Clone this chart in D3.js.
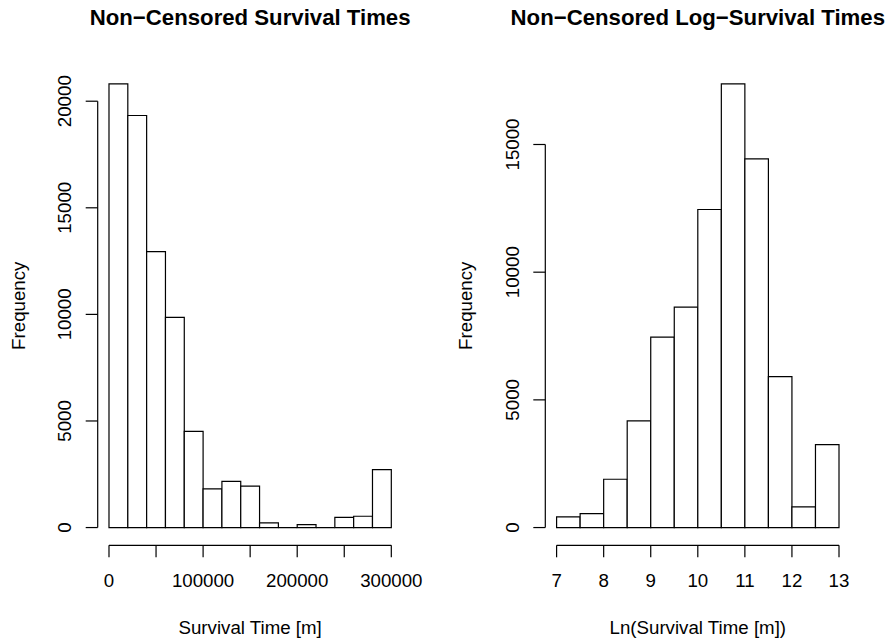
<!DOCTYPE html>
<html>
<head>
<meta charset="utf-8">
<script src="https://cdn.jsdelivr.net/npm/d3@7"></script>
<style>
  html, body { margin: 0; padding: 0; background: #fff; }
  svg { display: block; }
  text { font-family: "Liberation Sans", Arial, Helvetica, sans-serif; fill: #000; }
</style>
</head>
<body>
<svg id="chart" width="891" height="640"></svg>
<script>
// ---- Data ----
const survivalBreaks = [0, 20000, 40000, 60000, 80000, 100000, 120000, 140000, 160000,
                        180000, 200000, 220000, 240000, 260000, 280000, 300000];
const survivalCounts = [20810, 19330, 12940, 9860, 4510, 1810, 2170, 1940, 220, 0, 140, 0, 480, 530, 2720];
const survivalXTicks = [0, 50000, 100000, 150000, 200000, 250000, 300000];
const survivalXLabels = [0, 100000, 200000, 300000];
const survivalYTicks = [0, 5000, 10000, 15000, 20000];

const logBreaks = [7, 7.5, 8, 8.5, 9, 9.5, 10, 10.5, 11, 11.5, 12, 12.5, 13];
const logCounts = [418, 548, 1891, 4174, 7460, 8634, 12455, 17371, 14437, 5908, 809, 3247];
const logXTicks = [7, 8, 9, 10, 11, 12, 13];
const logXLabels = [7, 8, 9, 10, 11, 12, 13];
const logYTicks = [0, 5000, 10000, 15000];

const titles = ["Non\u2212Censored Survival Times", "Non\u2212Censored Log\u2212Survival Times"];
const xTitles = ["Survival Time [m]", "Ln(Survival Time [m])"];
const yTitle = "Frequency";

// ---- Layout ----
const svg = d3.select("#chart");
const plotTop = 66.2, plotBottom = 545.3;
const fontSize = 18.7, titleSize = 22.2;
const tickLen = 12;

function panel(cfg) {
  const g = svg.append("g");
  const xmin = cfg.breaks[0], xmax = cfg.breaks[cfg.breaks.length - 1];
  const xpad = (xmax - xmin) * 0.04;
  const x = d3.scaleLinear().domain([xmin - xpad, xmax + xpad]).range([cfg.left, cfg.right]);
  const ymax = d3.max(cfg.counts);
  const ypad = ymax * 0.04;
  const y = d3.scaleLinear().domain([-ypad, ymax + ypad]).range([plotBottom, plotTop]);

  const bins = cfg.counts.map((c, i) => ({ x0: cfg.breaks[i], x1: cfg.breaks[i + 1], c }));
  g.selectAll("path.bar").data(bins).enter().append("path")
    .attr("class", "bar")
    .attr("d", d => {
      const l = x(d.x0), r = x(d.x1), t = y(d.c), b = y(0);
      return `M${l},${b}L${l},${t}L${r},${t}L${r},${b}Z`;
    })
    .attr("fill", "#fff")
    .attr("stroke", "#000")
    .attr("stroke-width", 1.2);

  // x axis (R-style: line spans first to last tick)
  const xa = g.append("g");
  xa.append("line")
    .attr("x1", x(cfg.xTicks[0])).attr("x2", x(cfg.xTicks[cfg.xTicks.length - 1]))
    .attr("y1", plotBottom).attr("y2", plotBottom)
    .attr("stroke", "#000").attr("stroke-width", 1.2);
  xa.selectAll("line.tick").data(cfg.xTicks).enter().append("line")
    .attr("class", "tick")
    .attr("x1", d => x(d)).attr("x2", d => x(d))
    .attr("y1", plotBottom).attr("y2", plotBottom + tickLen)
    .attr("stroke", "#000").attr("stroke-width", 1.2);
  xa.selectAll("text").data(cfg.xLabels).enter().append("text")
    .attr("x", d => x(d)).attr("y", 586.7)
    .attr("text-anchor", "middle")
    .style("font-size", fontSize + "px")
    .text(d => String(d));

  // y axis
  const ya = g.append("g");
  ya.append("line")
    .attr("x1", cfg.left).attr("x2", cfg.left)
    .attr("y1", y(cfg.yTicks[0])).attr("y2", y(cfg.yTicks[cfg.yTicks.length - 1]))
    .attr("stroke", "#000").attr("stroke-width", 1.2);
  ya.selectAll("line.tick").data(cfg.yTicks).enter().append("line")
    .attr("class", "tick")
    .attr("x1", cfg.left - tickLen).attr("x2", cfg.left)
    .attr("y1", d => y(d)).attr("y2", d => y(d))
    .attr("stroke", "#000").attr("stroke-width", 1.2);
  ya.selectAll("text").data(cfg.yTicks).enter().append("text")
    .attr("transform", d => `translate(${cfg.left - 26.5},${y(d)}) rotate(-90)`)
    .attr("text-anchor", "middle")
    .style("font-size", fontSize + "px")
    .text(d => String(d));

  const cx = (cfg.left + cfg.right) / 2;
  const cy = (plotTop + plotBottom) / 2;
  g.append("text")
    .attr("x", cx).attr("y", 25)
    .attr("text-anchor", "middle")
    .style("font-size", titleSize + "px")
    .style("font-weight", "bold")
    .text(cfg.title);
  g.append("text")
    .attr("x", cx).attr("y", 633.5)
    .attr("text-anchor", "middle")
    .style("font-size", fontSize + "px")
    .text(cfg.xTitle);
  g.append("text")
    .attr("transform", `translate(${cfg.left - 73},${cy}) rotate(-90)`)
    .attr("text-anchor", "middle")
    .style("font-size", fontSize + "px")
    .text(yTitle);
}

panel({ breaks: survivalBreaks, counts: survivalCounts, xTicks: survivalXTicks, xLabels: survivalXLabels,
        yTicks: survivalYTicks, left: 97.7, right: 402.6, title: titles[0], xTitle: xTitles[0] });
panel({ breaks: logBreaks, counts: logCounts, xTicks: logXTicks, xLabels: logXLabels,
        yTicks: logYTicks, left: 545.3, right: 850.3, title: titles[1], xTitle: xTitles[1] });
</script>
</body>
</html>
